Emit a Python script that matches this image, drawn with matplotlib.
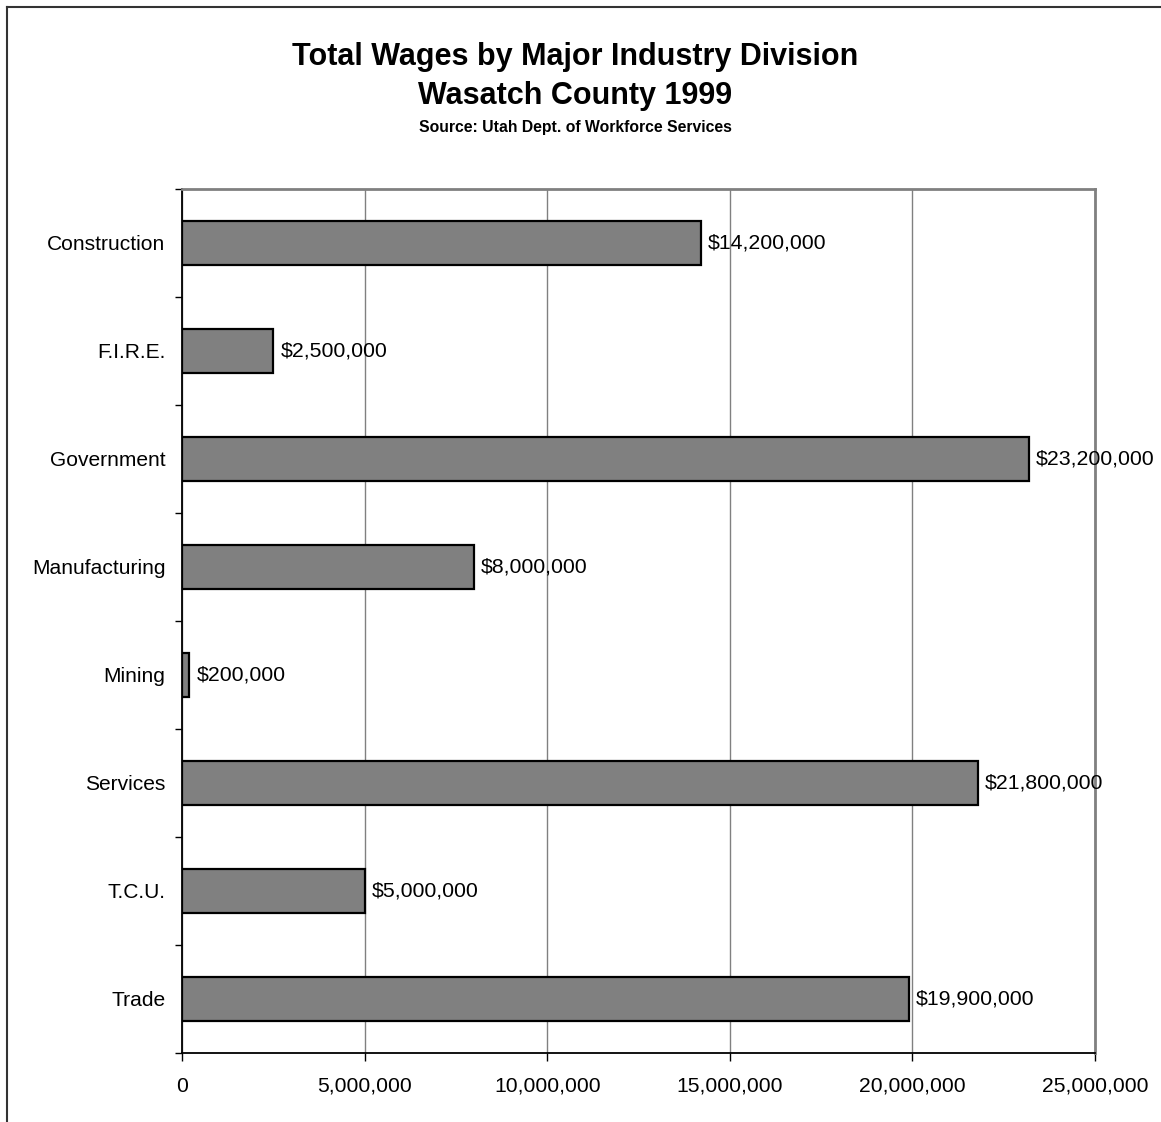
import matplotlib
matplotlib.use("Agg")
import matplotlib.pyplot as plt
from matplotlib.ticker import FuncFormatter, MultipleLocator, FixedLocator
import numpy as np

plt.rcParams['font.family'] = ['Liberation Sans', 'DejaVu Sans']

categories = ["Construction", "F.I.R.E.", "Government", "Manufacturing",
              "Mining", "Services", "T.C.U.", "Trade"]
wages = [14200000, 2500000, 23200000, 8000000, 200000, 21800000, 5000000, 19900000]
value_labels = ["$14,200,000", "$2,500,000", "$23,200,000", "$8,000,000",
                "$200,000", "$21,800,000", "$5,000,000", "$19,900,000"]
title_lines = ["Total Wages by Major Industry Division", "Wasatch County 1999"]
source = "Source: Utah Dept. of Workforce Services"

W, H = 1161, 1122
fig = plt.figure(figsize=(W / 100, H / 100), dpi=100)
fig.patch.set_facecolor("white")

ax = fig.add_axes([182 / W, 1 - 1053 / H, (1095 - 182) / W, (1053 - 189) / H])

n = len(categories)
ypos = np.arange(n)
ax.barh(ypos, wages, height=0.4, color="#808080", edgecolor="black",
        linewidth=1.6, zorder=3)
ax.set_ylim(n - 0.5, -0.5)
ax.set_xlim(0, 25000000)

for y, v, lab in zip(ypos, wages, value_labels):
    ax.annotate(lab, (v, y), xytext=(7, 0), textcoords="offset pixels",
                va="center", ha="left", fontsize=15.3, zorder=4)

ax.xaxis.set_major_locator(MultipleLocator(5000000))
ax.xaxis.set_major_formatter(FuncFormatter(lambda x, p: f"{int(x):,}"))
ax.grid(axis="x", color="#808080", linewidth=1.0, zorder=0)

ax.set_yticks(ypos)
ax.set_yticklabels(categories, fontsize=15.1)
ax.yaxis.set_minor_locator(FixedLocator(np.arange(-0.5, n, 1.0)))
ax.tick_params(axis="y", which="major", length=0, pad=12)
ax.tick_params(axis="y", which="minor", length=5, width=1.0, color="black")
ax.tick_params(axis="x", which="major", length=6, width=1.0, color="black",
               labelsize=15.2, pad=11)

for s in ["left", "bottom"]:
    ax.spines[s].set_color("black")
    ax.spines[s].set_linewidth(1.3)
for s in ["top", "right"]:
    ax.spines[s].set_color("#808080")
    ax.spines[s].set_linewidth(2.0)

fig.text(575 / W, 1 - 57 / H, title_lines[0], ha="center", va="center",
         fontsize=22, fontweight="bold")
fig.text(575 / W, 1 - 96 / H, title_lines[1], ha="center", va="center",
         fontsize=22, fontweight="bold")
fig.text(575 / W, 1 - 128 / H, source, ha="center", va="center",
         fontsize=11.3, fontweight="bold")

# outer chart frame (extends beyond right/bottom edge)
fig.add_artist(plt.Line2D([7 / W, 7 / W], [0, 1 - 7 / H], transform=fig.transFigure,
                          color="#333333", linewidth=1.5))
fig.add_artist(plt.Line2D([7 / W, 1], [1 - 7 / H, 1 - 7 / H], transform=fig.transFigure,
                          color="#333333", linewidth=1.5))

fig.savefig("out.png", dpi=100)
